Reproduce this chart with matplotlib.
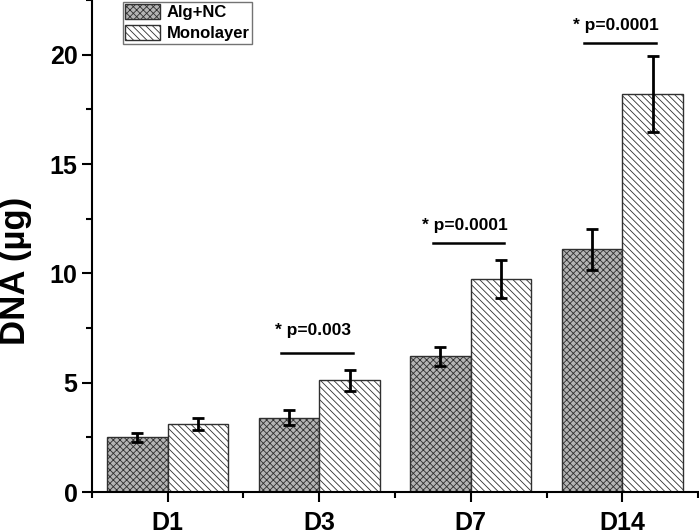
import matplotlib
matplotlib.use("Agg")
from matplotlib import pyplot as plt
from matplotlib.ticker import MultipleLocator, FixedLocator
import numpy as np

plt.rcParams['font.family'] = ['Liberation Sans', 'DejaVu Sans']
plt.rcParams['font.weight'] = 'bold'
plt.rcParams['hatch.linewidth'] = 0.6

# data
days = ["D1", "D3", "D7", "D14"]
alg_nc = [2.5, 3.4, 6.2, 11.1]
alg_nc_err = [0.22, 0.33, 0.44, 0.95]
monolayer = [3.1, 5.1, 9.75, 18.2]
monolayer_err = [0.27, 0.5, 0.87, 1.72]

# significance marks: day index, line height, text height, text
sig_days = [1, 2, 3]
sig_heights = [6.36, 11.41, 20.55]
sig_text_y = [7.19, 11.99, 21.11]
sig_labels = ["* p=0.003", "* p=0.0001", "* p=0.0001"]

x = np.arange(1, len(days) + 1)
w = 0.4

fig = plt.figure(figsize=(6.99, 5.31), dpi=100)
ax = fig.add_axes([0.1316, 0.0734, 0.867, 0.9266])

ax.bar(x - w / 2, alg_nc, w, color="#b4b4b4", edgecolor="#303030",
       hatch="xxxxx", linewidth=1.0, label="Alg+NC")
ax.bar(x + w / 2, monolayer, w, color="white", edgecolor="#303030",
       hatch="\\\\\\\\\\", linewidth=1.0, label="Monolayer")
ax.errorbar(x - w / 2, alg_nc, yerr=alg_nc_err, fmt="none", ecolor="black",
            elinewidth=2, capsize=4, capthick=2)
ax.errorbar(x + w / 2, monolayer, yerr=monolayer_err, fmt="none", ecolor="black",
            elinewidth=2, capsize=4, capthick=2)

for i, h, ty, lab in zip(sig_days, sig_heights, sig_text_y, sig_labels):
    c = x[i]
    ax.plot([c - 0.25, c + 0.22], [h, h], color="black", lw=1.8)
    ax.text(c - 0.04, ty, lab, ha="center", va="baseline",
            fontsize=12.5, fontweight="bold")

ax.set_xlim(0.5, 4.5)
ax.set_ylim(0, 22.5)
ax.set_xticks(x)
ax.set_xticklabels(days, fontsize=18, fontweight="bold")
ax.xaxis.set_minor_locator(FixedLocator([0.5, 1.5, 2.5, 3.5, 4.5]))
ax.yaxis.set_major_locator(MultipleLocator(5))
ax.yaxis.set_minor_locator(MultipleLocator(2.5))
for lab in ax.get_yticklabels():
    lab.set_fontsize(18)
    lab.set_fontweight("bold")
ax.tick_params(axis="both", which="major", direction="out", length=7, width=1.5)
ax.tick_params(axis="both", which="minor", direction="out", length=4, width=1.5)
ax.tick_params(axis="x", which="major", pad=7)

ax.spines["top"].set_visible(False)
ax.spines["right"].set_visible(False)
ax.spines["left"].set_linewidth(1.5)
ax.spines["bottom"].set_linewidth(1.5)

fig.text(16 / 699, 1 - 271 / 531, "DNA (µg)", rotation=90, ha="center",
         va="center", fontsize=25, fontweight="bold")

leg = ax.legend(loc="upper left", bbox_to_anchor=(0.048, 1.0), borderaxespad=0.1,
                fontsize=12, frameon=True, fancybox=False, edgecolor="#505050",
                handlelength=2.1, handleheight=1.0, borderpad=0.15,
                labelspacing=0.3, handletextpad=0.4)
leg.get_frame().set_linewidth(1.0)

fig.savefig("out.png", dpi=100)
